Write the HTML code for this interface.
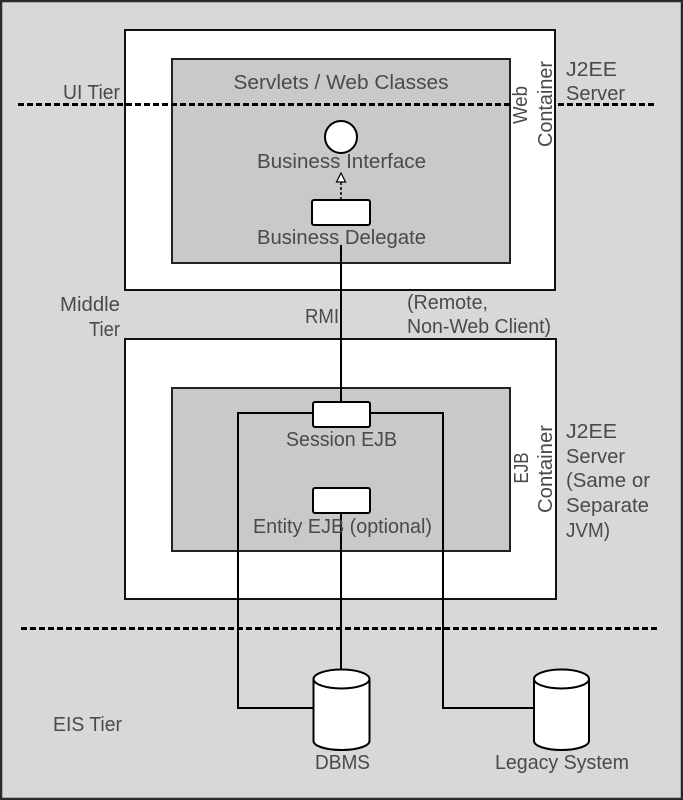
<!DOCTYPE html>
<html>
<head>
<meta charset="utf-8">
<style>
  html, body { margin:0; padding:0; background:#d7d7d7; }
  svg { display:block; }
  text { font-family: "Liberation Sans", Arial, sans-serif; font-size:20px; fill:#4a4a4a; }
</style>
</head>
<body>
<svg width="683" height="800" viewBox="0 0 683 800" xmlns="http://www.w3.org/2000/svg">
  <!-- background -->
  <rect x="0" y="0" width="683" height="800" fill="#d8d8d8"/>
  <rect x="1" y="1" width="681" height="798" fill="none" stroke="#2a2a2a" stroke-width="2.5"/>

  <!-- Web server box -->
  <rect x="125" y="30" width="430" height="260" fill="#ffffff" stroke="#111" stroke-width="2"/>
  <rect x="172" y="59" width="338" height="204" fill="#c9c9c9" stroke="#222" stroke-width="2"/>

  <!-- UI tier dashed line -->
  <line x1="18" y1="104.5" x2="513" y2="104.5" stroke="#000" stroke-width="3" stroke-dasharray="6 3"/>
  <line x1="558" y1="104.5" x2="656" y2="104.5" stroke="#000" stroke-width="3" stroke-dasharray="6 3"/>

  <text x="341" y="89" text-anchor="middle" textLength="215" lengthAdjust="spacingAndGlyphs">Servlets / Web Classes</text>

  <!-- business interface circle -->
  <circle cx="341" cy="137" r="16" fill="#fff" stroke="#000" stroke-width="2"/>
  <text x="341.5" y="168" text-anchor="middle" textLength="169" lengthAdjust="spacingAndGlyphs">Business Interface</text>

  <!-- realization arrow -->
  <line x1="341" y1="182" x2="341" y2="200" stroke="#000" stroke-width="1.5" stroke-dasharray="3 2"/>
  <polygon points="341,173 336.5,182 345.5,182" fill="#fff" stroke="#000" stroke-width="1.2"/>

  <!-- business delegate -->
  <rect x="312" y="200" width="58" height="25" rx="2" fill="#fff" stroke="#000" stroke-width="2"/>
  <text x="341.5" y="244" text-anchor="middle" textLength="169" lengthAdjust="spacingAndGlyphs">Business Delegate</text>

  <!-- rotated labels web -->
  <text transform="translate(527,105) rotate(-90)" text-anchor="middle" textLength="38" lengthAdjust="spacingAndGlyphs">Web</text>
  <text transform="translate(552,104) rotate(-90)" text-anchor="middle" textLength="86" lengthAdjust="spacingAndGlyphs">Container</text>

  <text x="566" y="76" textLength="51" lengthAdjust="spacingAndGlyphs">J2EE</text>
  <text x="566" y="100" textLength="59" lengthAdjust="spacingAndGlyphs">Server</text>

  <text x="63" y="99" textLength="57" lengthAdjust="spacingAndGlyphs">UI Tier</text>

  <text x="120" y="311" text-anchor="end" textLength="60" lengthAdjust="spacingAndGlyphs">Middle</text>
  <text x="120" y="336" text-anchor="end" textLength="31" lengthAdjust="spacingAndGlyphs">Tier</text>

  <text x="305" y="323" textLength="34" lengthAdjust="spacingAndGlyphs">RMI</text>
  <text x="407" y="309" textLength="81" lengthAdjust="spacingAndGlyphs">(Remote,</text>
  <text x="407" y="333" textLength="144" lengthAdjust="spacingAndGlyphs">Non-Web Client)</text>

  <!-- EJB server box -->
  <rect x="125" y="339" width="431" height="260" fill="#ffffff" stroke="#111" stroke-width="2"/>
  <rect x="172" y="388" width="338" height="163" fill="#c9c9c9" stroke="#222" stroke-width="2"/>

  <!-- connectors -->
  <line x1="341" y1="245" x2="341" y2="402" stroke="#000" stroke-width="2"/>
  <path d="M314,708 L238,708 L238,413 L443,413 L443,708 L534,708" fill="none" stroke="#000" stroke-width="2"/>
  <line x1="341" y1="513" x2="341" y2="671" stroke="#000" stroke-width="2"/>

  <!-- session EJB -->
  <rect x="313" y="402" width="57" height="25" rx="2" fill="#fff" stroke="#000" stroke-width="2"/>
  <text x="341.5" y="446" text-anchor="middle" textLength="111" lengthAdjust="spacingAndGlyphs">Session EJB</text>

  <!-- entity EJB -->
  <rect x="313" y="488" width="57" height="25" rx="2" fill="#fff" stroke="#000" stroke-width="2"/>
  <text x="342.5" y="533" text-anchor="middle" textLength="179" lengthAdjust="spacingAndGlyphs">Entity EJB (optional)</text>

  <!-- rotated labels ejb -->
  <text transform="translate(528,468) rotate(-90)" text-anchor="middle" textLength="31" lengthAdjust="spacingAndGlyphs">EJB</text>
  <text transform="translate(552,469) rotate(-90)" text-anchor="middle" textLength="88" lengthAdjust="spacingAndGlyphs">Container</text>

  <text x="566" y="438" textLength="51" lengthAdjust="spacingAndGlyphs">J2EE</text>
  <text x="566" y="463" textLength="59" lengthAdjust="spacingAndGlyphs">Server</text>
  <text x="566" y="487" textLength="84" lengthAdjust="spacingAndGlyphs">(Same or</text>
  <text x="566" y="512" textLength="83" lengthAdjust="spacingAndGlyphs">Separate</text>
  <text x="566" y="537" textLength="44" lengthAdjust="spacingAndGlyphs">JVM)</text>

  <!-- EIS dashed line -->
  <line x1="21" y1="628.5" x2="657" y2="628.5" stroke="#000" stroke-width="3" stroke-dasharray="6 3"/>

  <!-- DBMS cylinder -->
  <path d="M313.5,679 L313.5,741 A28,9 0 0 0 369.5,741 L369.5,679" fill="#fff" stroke="#000" stroke-width="2"/>
  <ellipse cx="341.5" cy="679" rx="28" ry="9.5" fill="#fff" stroke="#000" stroke-width="2"/>
  <text x="342.5" y="769" text-anchor="middle" textLength="55" lengthAdjust="spacingAndGlyphs">DBMS</text>

  <!-- Legacy cylinder -->
  <path d="M534,679 L534,741 A27.5,9 0 0 0 589,741 L589,679" fill="#fff" stroke="#000" stroke-width="2"/>
  <ellipse cx="561.5" cy="679" rx="27.5" ry="9.5" fill="#fff" stroke="#000" stroke-width="2"/>
  <text x="562" y="769" text-anchor="middle" textLength="134" lengthAdjust="spacingAndGlyphs">Legacy System</text>

  <text x="53" y="731" textLength="69" lengthAdjust="spacingAndGlyphs">EIS Tier</text>
</svg>
</body>
</html>
